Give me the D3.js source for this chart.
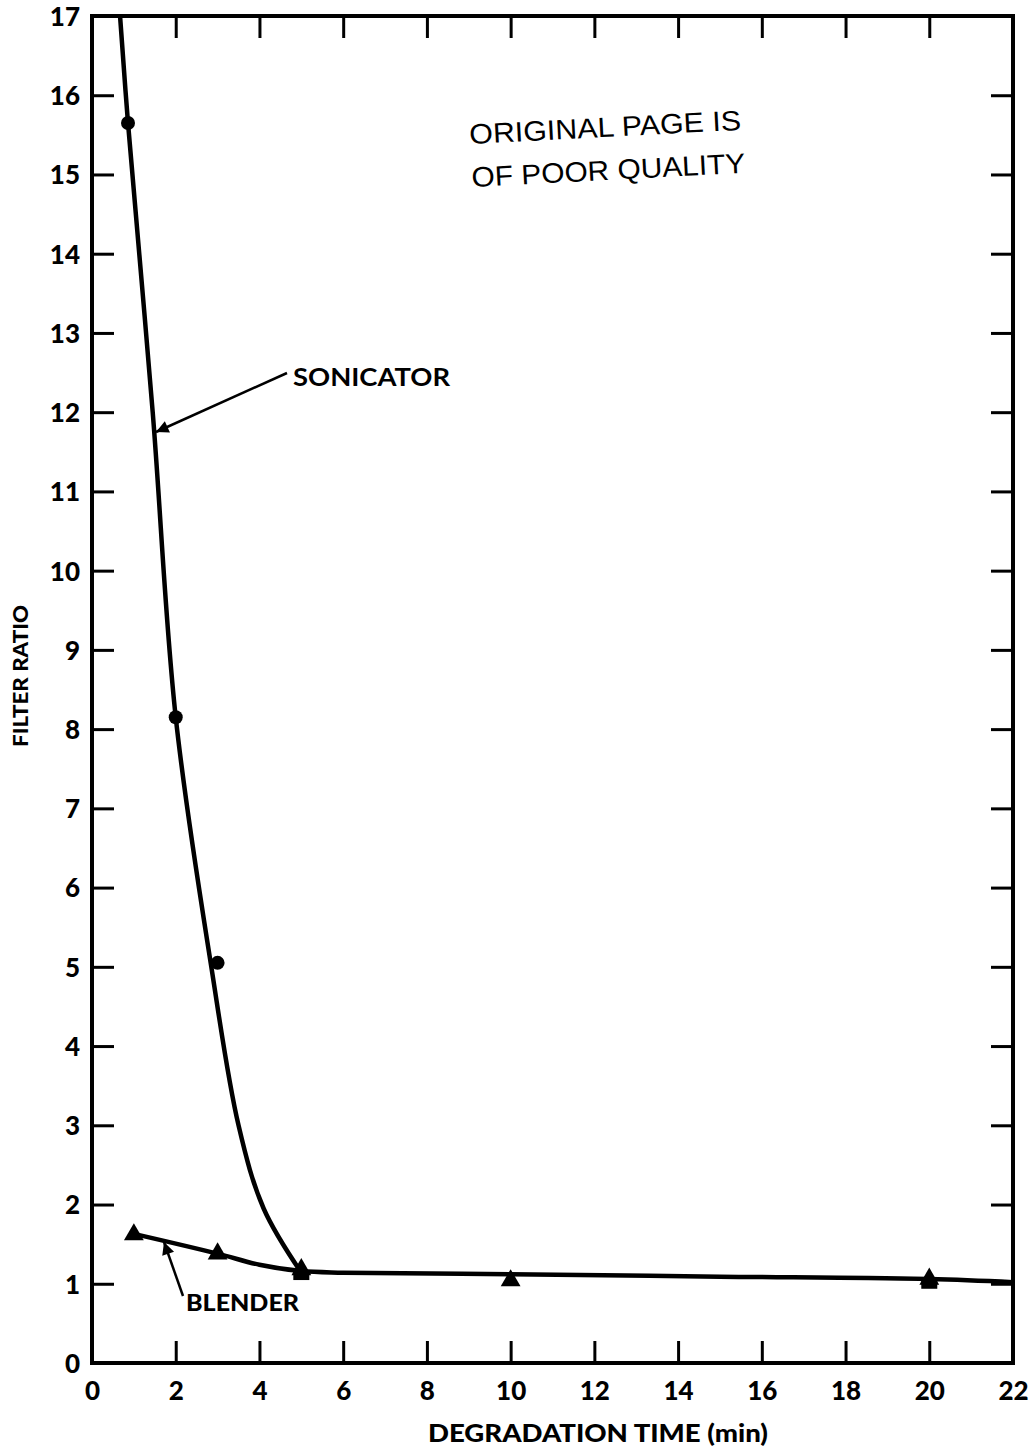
<!DOCTYPE html>
<html><head><meta charset="utf-8">
<script src="https://cdn.jsdelivr.net/npm/d3@7"></script>
<style>
html,body{margin:0;padding:0;background:#fff;}
svg{display:block;}
text{font-family:Lato,"Open Sans",sans-serif;fill:#000;}
</style></head>
<body>
<script>
// ---- data ----
const xTicks = [0,2,4,6,8,10,12,14,16,18,20,22];
const yTicks = [0,1,2,3,4,5,6,7,8,9,10,11,12,13,14,15,16,17];
const xTickLabels = ["0","2","4","6","8","10","12","14","16","18","20","22"];
const sonicatorPoints = [[0.86,15.65],[2.0,8.15],[3.0,5.05]];
const sonicatorCurve = [[0.67,17],[0.86,15.65],[1.45,12],[2.0,8.15],[2.85,5.0],[3.5,3.0],[4.1,1.95],[5.0,1.14]];
const blenderPoints = [[1,1.62],[3,1.38],[5,1.18],[10,1.04],[20,1.06]];
const squarePoints = [[5,1.11],[20,1.0]];
const blenderCurve = [[1,1.63],[3,1.38],[4,1.24],[5,1.16],[6,1.14],[10,1.12],[15,1.09],[20,1.06],[22,1.02]];
const xTitle = "DEGRADATION TIME (min)";
const yTitle = "FILTER RATIO";
const stampLines = ["ORIGINAL PAGE IS","OF POOR QUALITY"];

const W=1032,H=1452;
const svg=d3.select("body").append("svg").attr("width",W).attr("height",H);
const x=d3.scaleLinear().domain([0,22]).range([92,1013]);
const y=d3.scaleLinear().domain([0,17]).range([1363,16]);

const defs=svg.append("defs");
defs.append("marker").attr("id","ah").attr("viewBox","0 0 10 10").attr("refX",10).attr("refY",5)
 .attr("markerWidth",7).attr("markerHeight",5).attr("markerUnits","strokeWidth").attr("orient","auto")
 .append("path").attr("d","M0,0 L10,5 L0,10 z").attr("fill","#000");

const tl=22;
const axB=svg.append("g").attr("transform",`translate(0,${y(0)})`)
 .call(d3.axisBottom(x).tickValues(xTicks).tickSize(-tl).tickPadding(tl+10).tickFormat((d,i)=>xTickLabels[i]));
const axT=svg.append("g").attr("transform",`translate(0,${y(17)})`)
 .call(d3.axisTop(x).tickValues(xTicks).tickSize(-tl).tickFormat(""));
const axL=svg.append("g").attr("transform",`translate(${x(0)},0)`)
 .call(d3.axisLeft(y).tickValues(yTicks).tickSize(-tl).tickPadding(12).tickFormat(d3.format("d")));
const axR=svg.append("g").attr("transform",`translate(${x(22)},0)`)
 .call(d3.axisRight(y).tickValues(yTicks).tickSize(-tl).tickFormat(""));
[axB,axT,axL,axR].forEach(a=>{
  a.select(".domain").remove();
  a.selectAll(".tick line").attr("stroke","#000").attr("stroke-width",3);
  a.selectAll(".tick text").style("font-family","Lato,sans-serif").style("font-weight","900").style("font-size","26px").attr("fill","#000");
});
axB.selectAll(".tick text").attr("dy","0.2em");
axL.selectAll(".tick text").attr("dy","0.36em");

svg.append("rect").attr("x",x(0)).attr("y",y(17)).attr("width",x(22)-x(0)).attr("height",y(0)-y(17))
 .attr("fill","none").attr("stroke","#000").attr("stroke-width",4);

const line=d3.line().x(d=>x(d[0])).y(d=>y(d[1])).curve(d3.curveCatmullRom.alpha(0.5));
svg.append("path").datum(sonicatorCurve).attr("d",line).attr("fill","none").attr("stroke","#000").attr("stroke-width",4.5);
svg.append("path").datum(blenderCurve).attr("d",line).attr("fill","none").attr("stroke","#000").attr("stroke-width",4.5);

svg.selectAll(".son").data(sonicatorPoints).join("circle").attr("cx",d=>x(d[0])).attr("cy",d=>y(d[1])).attr("r",7).attr("fill","#000");
const tri=d3.symbol().type(d3.symbolTriangle).size(170);
svg.selectAll(".bl").data(blenderPoints).join("path").attr("d",tri).attr("transform",d=>`translate(${x(d[0])},${y(d[1])})`).attr("fill","#000");
svg.selectAll(".sq").data(squarePoints).join("rect").attr("x",d=>x(d[0])-8).attr("y",d=>y(d[1])-5).attr("width",16).attr("height",10).attr("fill","#000");

svg.append("line").attr("x1",287).attr("y1",373).attr("x2",156).attr("y2",432).attr("stroke","#000").attr("stroke-width",2.5).attr("marker-end","url(#ah)");
svg.append("text").attr("x",293).attr("y",386).text("SONICATOR").style("font-size","24px").style("font-weight","700").attr("textLength",157).attr("lengthAdjust","spacingAndGlyphs");
svg.append("line").attr("x1",183).attr("y1",1296).attr("x2",164).attr("y2",1242).attr("stroke","#000").attr("stroke-width",2.5).attr("marker-end","url(#ah)");
svg.append("text").attr("x",186).attr("y",1311).text("BLENDER").style("font-size","23px").style("font-weight","900").attr("textLength",113).attr("lengthAdjust","spacingAndGlyphs");

const st=svg.append("g").attr("transform","rotate(-3,605,145)");
st.append("text").attr("x",470).attr("y",137).text(stampLines[0]).style("font-family","'Liberation Sans',sans-serif").style("font-size","28px").attr("textLength",272).attr("lengthAdjust","spacingAndGlyphs");
st.append("text").attr("x",470).attr("y",180).text(stampLines[1]).style("font-family","'Liberation Sans',sans-serif").style("font-size","28px").attr("textLength",274).attr("lengthAdjust","spacingAndGlyphs");

svg.append("text").attr("transform","translate(28,676) rotate(-90)").attr("text-anchor","middle").text(yTitle)
 .style("font-size","21px").style("font-weight","900").attr("textLength",142).attr("lengthAdjust","spacingAndGlyphs");
svg.append("text").attr("x",598).attr("y",1442).attr("text-anchor","middle").text(xTitle)
 .style("font-size","24px").style("font-weight","900").attr("textLength",340).attr("lengthAdjust","spacingAndGlyphs");
</script>
</body></html>
